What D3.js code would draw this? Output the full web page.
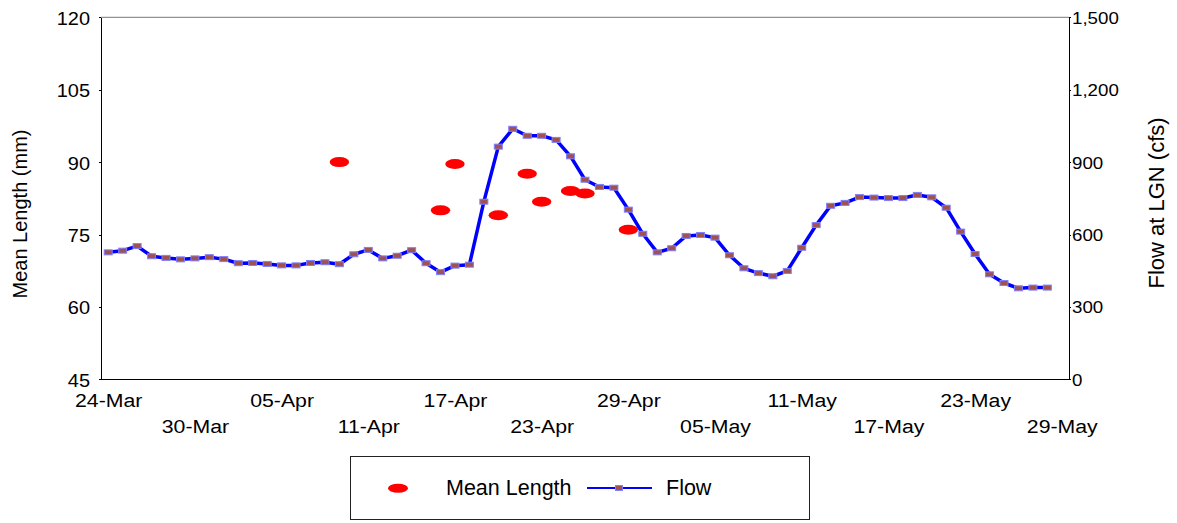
<!DOCTYPE html>
<html lang="en">
<head>
    <meta charset="UTF-8">
    <title>Mean Length and Flow</title>
    <script src="https://d3js.org/d3.v7.min.js"></script>
    <style>
        body { margin: 0; background: #fff; }
        svg { display: block; font-family: "Liberation Sans", Arial, sans-serif; }
        .axis path, .axis line { stroke: #000; shape-rendering: crispEdges; }
        .axis text { fill: #000; }
    </style>
</head>
<body>
    <svg id="chart" width="1177" height="523"></svg>

    <script>
        // Flow at LGN (cfs), one value per day from 24-Mar
        var flowStart = "2010-03-24";
        var flowValues = [526, 533, 552, 510, 503, 497, 501, 506, 498, 481,
            482, 478, 472, 472, 482, 485, 477, 518, 536, 501,
            512, 535, 481, 444, 471, 475, 736, 964, 1038, 1009,
            1009, 992, 924, 827, 797, 794, 703, 603, 526, 543,
            594, 598, 587, 514, 460, 440, 427, 449, 545, 639,
            719, 731, 755, 753, 751, 751, 764, 754, 711, 612,
            519, 435, 399, 377, 380, 380];

        // Mean length (mm) samples
        var lengthDates = ["2010-04-09", "2010-04-16", "2010-04-17", "2010-04-20", "2010-04-22",
            "2010-04-23", "2010-04-25", "2010-04-26", "2010-04-29"];
        var lengthValues = [90.0, 80.0, 89.6, 79.0, 87.6, 81.8, 84.0, 83.5, 76.0];

        var leftTicks = [45, 60, 75, 90, 105, 120];
        var rightTicks = [0, 300, 600, 900, 1200, 1500];
        var dateTicks = ["2010-03-24", "2010-03-30", "2010-04-05", "2010-04-11", "2010-04-17", "2010-04-23",
            "2010-04-29", "2010-05-05", "2010-05-11", "2010-05-17", "2010-05-23", "2010-05-29"];

        var parse = d3.utcParse("%Y-%m-%d");
        var halfDay = 12 * 3600 * 1000;
        function mid(d) { return new Date(parse(d).getTime() + halfDay); }

        var plot = { left: 101, right: 1069, top: 17.3, bottom: 379.3 };

        var flowData = flowValues.map(function (v, i) {
            return { date: new Date(d3.utcDay.offset(parse(flowStart), i).getTime() + halfDay), value: v };
        });
        var lengthData = lengthDates.map(function (d, i) {
            return { date: mid(d), value: lengthValues[i] };
        });

        var x = d3.scaleUtc()
            .domain([parse("2010-03-24"), parse("2010-05-30")])
            .range([plot.left, plot.right]);
        var yL = d3.scaleLinear().domain([45, 120]).range([plot.bottom, plot.top]);
        var yR = d3.scaleLinear().domain([0, 1500]).range([plot.bottom, plot.top]);

        var svg = d3.select("#chart");

        // plot area frame (top)
        svg.append("line")
            .attr("x1", plot.left).attr("x2", plot.right)
            .attr("y1", plot.top).attr("y2", plot.top)
            .attr("stroke", "#777").attr("stroke-width", 1);

        // x axis
        var xAxis = svg.append("g")
            .attr("class", "axis")
            .attr("transform", "translate(0," + plot.bottom + ")")
            .call(d3.axisBottom(x)
                .tickValues(dateTicks.map(mid))
                .tickFormat(d3.utcFormat("%d-%b"))
                .tickSize(0));
        xAxis.select(".domain").attr("stroke", "#999").attr("d", "M" + plot.left + ",0H" + plot.right);
        xAxis.selectAll("text")
            .attr("font-size", 19)
            .attr("dy", null)
            .attr("y", function (d, i) { return i % 2 === 0 ? 27.7 : 53.7; })
            .attr("transform", "scale(1.12,1)");

        // left axis
        var leftAxis = svg.append("g")
            .attr("class", "axis")
            .attr("transform", "translate(" + plot.left + ",0)")
            .call(d3.axisLeft(yL).tickValues(leftTicks).tickSize(2).tickSizeOuter(0));
        leftAxis.selectAll("text")
            .attr("font-size", 19)
            .attr("x", 0)
            .attr("dy", null)
            .attr("y", 7)
            .attr("transform", "translate(-11,0) scale(1.05,1)");

        // right axis
        var rightAxis = svg.append("g")
            .attr("class", "axis")
            .attr("transform", "translate(" + plot.right + ",0)")
            .call(d3.axisRight(yR).tickValues(rightTicks).tickSize(2).tickSizeOuter(0)
                .tickFormat(d3.format(",")));
        rightAxis.selectAll("text")
            .attr("font-size", 16)
            .attr("x", 0)
            .attr("dy", null)
            .attr("y", 6)
            .attr("transform", "translate(3,0) scale(1.17,1)");

        // axis titles
        svg.append("text")
            .attr("transform", "translate(27," + 214 + ") rotate(-90)")
            .attr("text-anchor", "middle")
            .attr("font-size", 20)
            .text("Mean Length (mm)");

        svg.append("text")
            .attr("transform", "translate(1164," + 203 + ") rotate(-90)")
            .attr("text-anchor", "middle")
            .attr("font-size", 22)
            .text("Flow at LGN (cfs)");

        // mean length points
        svg.selectAll(".len")
            .data(lengthData)
            .enter().append("ellipse")
            .attr("class", "len")
            .attr("cx", function (d) { return x(d.date); })
            .attr("cy", function (d) { return yL(d.value); })
            .attr("rx", 9.7)
            .attr("ry", 5)
            .attr("fill", "#ff0000");

        // flow line
        var line = d3.line()
            .x(function (d) { return x(d.date); })
            .y(function (d) { return yR(d.value); });

        svg.append("path")
            .datum(flowData)
            .attr("d", line)
            .attr("fill", "none")
            .attr("stroke", "#0000ff")
            .attr("stroke-width", 3.5)
            .attr("stroke-linejoin", "round");

        svg.selectAll(".flowpt")
            .data(flowData)
            .enter().append("rect")
            .attr("class", "flowpt")
            .attr("x", function (d) { return x(d.date) - 4; })
            .attr("y", function (d) { return yR(d.value) - 2.5; })
            .attr("width", 8)
            .attr("height", 5)
            .attr("fill", "#a0524f")
            .attr("stroke", "#7f7fff")
            .attr("stroke-width", 1);

        // legend
        var legend = svg.append("g");
        legend.append("rect")
            .attr("x", 350.5).attr("y", 456.5)
            .attr("width", 459).attr("height", 63)
            .attr("fill", "#fff").attr("stroke", "#222");
        legend.append("ellipse")
            .attr("cx", 398).attr("cy", 488.3)
            .attr("rx", 10).attr("ry", 4.5)
            .attr("fill", "#ff0000");
        legend.append("text")
            .attr("x", 446).attr("y", 495)
            .attr("font-size", 21.5)
            .text("Mean Length");
        legend.append("line")
            .attr("x1", 587).attr("x2", 652)
            .attr("y1", 488).attr("y2", 488)
            .attr("stroke", "#0000ff").attr("stroke-width", 2);
        legend.append("rect")
            .attr("x", 615.5).attr("y", 485.5)
            .attr("width", 7).attr("height", 5)
            .attr("fill", "#a0524f").attr("stroke", "#7f7fff");
        legend.append("text")
            .attr("x", 666).attr("y", 495)
            .attr("font-size", 21.5)
            .text("Flow");
    </script>
</body>
</html>
